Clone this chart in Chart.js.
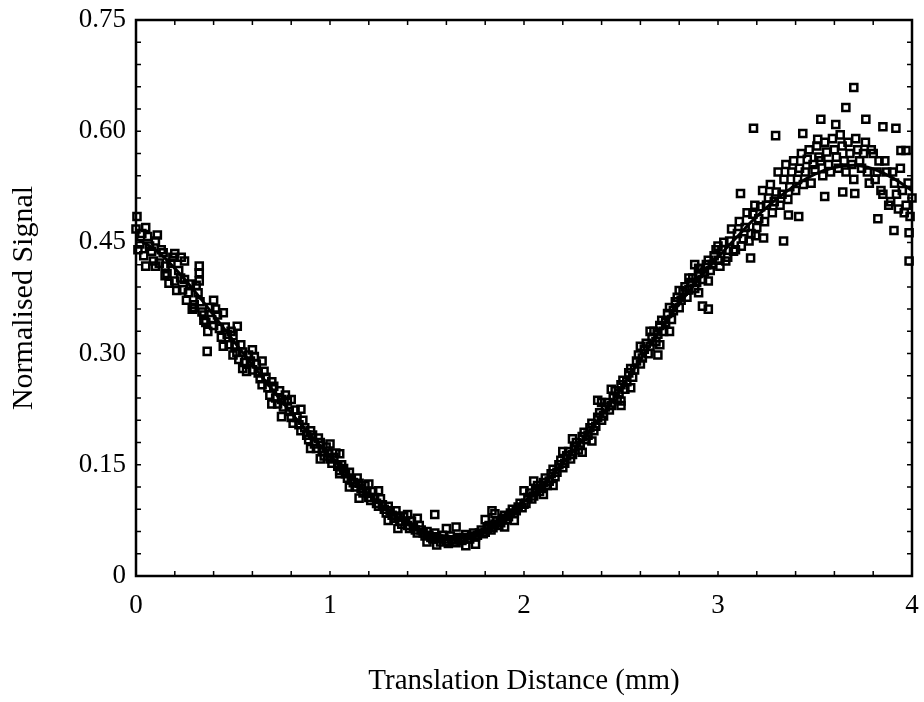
<!DOCTYPE html>
<html>
<head>
<meta charset="utf-8">
<script src="https://cdn.jsdelivr.net/npm/chart.js@4"></script>
<style>
  body { margin: 0; background: #fff; }
  canvas { display: block; }
</style>
</head>
<body>
<canvas id="chartSignal" width="924" height="702"></canvas>
<script>
// measured points [distance mm, normalised signal]
const descent = [
  [0.00,.468],[0.01,.44],[0.02,.448],[0.03,.462],[0.04,.432],[0.05,.418],[0.06,.458],[0.07,.445],[0.08,.438],[0.09,.425],
  [0.10,.452],[0.11,.46],[0.12,.422],[0.13,.44],[0.14,.436],[0.15,.418],[0.16,.408],[0.17,.395],[0.18,.422],[0.19,.43],
  [0.20,.398],[0.21,.385],[0.22,.412],[0.23,.402],[0.24,.386],[0.25,.40],[0.26,.372],[0.27,.382],[0.28,.394],[0.29,.36],
  [0.30,.366],[0.31,.392],[0.32,.382],[0.33,.37],[0.34,.356],[0.35,.352],[0.36,.342],[0.37,.33],[0.38,.362],[0.39,.346],
  [0.40,.338],[0.41,.36],[0.42,.352],[0.43,.334],[0.44,.322],[0.45,.31],[0.46,.336],[0.47,.326],[0.48,.312],[0.49,.33],
  [0.50,.324],[0.51,.31],[0.52,.302],[0.53,.292],[0.54,.312],[0.55,.302],[0.56,.288],[0.57,.276],[0.58,.298],[0.59,.29],
  [0.60,.278],[0.61,.296],[0.62,.286],[0.63,.274],[0.64,.266],[0.65,.258],[0.66,.276],[0.67,.268],[0.68,.254],[0.69,.244],
  [0.70,.262],[0.71,.256],[0.72,.24],[0.73,.232],[0.74,.25],[0.75,.238],[0.76,.228],[0.77,.244],[0.78,.236],[0.79,.222],
  [0.80,.214],[0.81,.206],[0.82,.224],[0.83,.214],[0.84,.204],[0.85,.196],[0.86,.21],[0.87,.2],[0.88,.19],[0.89,.184],
  [0.90,.196],[0.91,.19],[0.92,.178],[0.93,.172],[0.94,.186],[0.95,.18],[0.96,.168],[0.97,.162],[0.98,.174],[0.99,.166],
  [1.00,.158]
];

const trough = [
  [1.01,.152],[1.02,.16],[1.03,.166],[1.04,.148],[1.05,.142],[1.06,.15],[1.07,.145],[1.08,.138],[1.09,.132],[1.10,.14],
  [1.11,.13],[1.12,.126],[1.13,.12],[1.14,.132],[1.15,.125],[1.16,.118],[1.17,.112],[1.18,.122],[1.19,.114],[1.20,.106],
  [1.21,.102],[1.22,.114],[1.23,.106],[1.24,.098],[1.25,.094],[1.26,.104],[1.27,.096],[1.28,.09],[1.29,.085],[1.30,.094],
  [1.31,.088],[1.32,.082],[1.33,.078],[1.34,.088],[1.35,.08],[1.36,.074],[1.37,.07],[1.38,.08],[1.39,.074],[1.40,.068],
  [1.41,.064],[1.42,.074],[1.43,.066],[1.44,.062],[1.45,.058],[1.46,.068],[1.47,.062],[1.48,.058],[1.49,.054],[1.50,.06],
  [1.51,.055],[1.52,.052],[1.53,.05],[1.54,.058],[1.55,.053],[1.56,.05],[1.57,.046],[1.58,.055],[1.59,.05],[1.60,.047],
  [1.61,.044],[1.62,.054],[1.63,.049],[1.64,.046],[1.65,.045],[1.66,.052],[1.67,.049],[1.68,.048],[1.69,.052],[1.70,.056],
  [1.71,.05],[1.72,.05],[1.73,.054],[1.74,.058],[1.75,.053],[1.76,.055],[1.77,.058],[1.78,.062],[1.79,.057],[1.80,.059],
  [1.81,.064],[1.82,.068],[1.83,.062],[1.84,.065],[1.85,.07],[1.86,.074],[1.87,.068],[1.88,.072],[1.89,.078],[1.90,.082],
  [1.91,.076],[1.92,.08],[1.93,.085],[1.94,.09],[1.95,.084],[1.96,.088],[1.97,.093],[1.98,.098],[1.99,.092],[2.00,.097]
];

const ascent = [
  [2.01,.098],[2.02,.106],[2.03,.112],[2.04,.104],[2.05,.108],[2.06,.116],[2.07,.122],[2.08,.114],[2.09,.118],[2.10,.126],
  [2.11,.132],[2.12,.122],[2.13,.128],[2.14,.138],[2.15,.144],[2.16,.134],[2.17,.14],[2.18,.15],[2.19,.156],[2.20,.146],
  [2.21,.152],[2.22,.162],[2.23,.168],[2.24,.158],[2.25,.164],[2.26,.174],[2.27,.18],[2.28,.17],[2.29,.176],[2.30,.188],
  [2.31,.194],[2.32,.184],[2.33,.19],[2.34,.2],[2.35,.206],[2.36,.196],[2.37,.202],[2.38,.214],[2.39,.22],[2.40,.21],
  [2.41,.216],[2.42,.228],[2.43,.234],[2.44,.224],[2.45,.23],[2.46,.242],[2.47,.25],[2.48,.238],[2.49,.246],[2.50,.258],
  [2.51,.264],[2.52,.252],[2.53,.262],[2.54,.274],[2.55,.28],[2.56,.268],[2.57,.278],[2.58,.29],[2.59,.298],[2.60,.286],
  [2.61,.294],[2.62,.306],[2.63,.314],[2.64,.3],[2.65,.31],[2.66,.322],[2.67,.33],[2.68,.316],[2.69,.326],[2.70,.338],
  [2.71,.345],[2.72,.33],[2.73,.342],[2.74,.354],[2.75,.362],[2.76,.346],[2.77,.358],[2.78,.37],[2.79,.376],[2.80,.362],
  [2.81,.372],[2.82,.384],[2.83,.39],[2.84,.376],[2.85,.386],[2.86,.396],[2.87,.402],[2.88,.388],[2.89,.396],[2.90,.408],
  [2.91,.414],[2.92,.4],[2.93,.41],[2.94,.42],[2.95,.426],[2.96,.412],[2.97,.42],[2.98,.432],[2.99,.44],[3.00,.426]
];

const crest = [
  [3.01,.418],[3.02,.44],[3.03,.45],[3.04,.425],[3.05,.43],[3.06,.452],[3.07,.468],[3.08,.438],[3.09,.44],[3.10,.462],
  [3.11,.478],[3.12,.445],[3.13,.455],[3.14,.47],[3.15,.49],[3.16,.452],[3.17,.462],[3.18,.488],[3.19,.5],[3.20,.47],
  [3.21,.482],[3.22,.498],[3.23,.52],[3.24,.478],[3.25,.5],[3.26,.51],[3.27,.528],[3.28,.49],[3.29,.505],[3.30,.518],
  [3.31,.545],[3.32,.5],[3.33,.515],[3.34,.535],[3.35,.555],[3.36,.508],[3.37,.525],[3.38,.545],[3.39,.56],[3.40,.52],
  [3.41,.535],[3.42,.55],[3.43,.57],[3.44,.528],[3.45,.545],[3.46,.562],[3.47,.575],[3.48,.53],[3.49,.555],[3.50,.548],
  [3.51,.58],[3.52,.565],[3.53,.56],[3.54,.54],[3.55,.585],[3.56,.572],[3.57,.555],[3.58,.545],[3.59,.59],[3.60,.575],
  [3.61,.565],[3.62,.55],[3.63,.595],[3.64,.58],[3.65,.56],[3.66,.545],[3.67,.585],[3.68,.57],[3.69,.555],[3.70,.535],
  [3.71,.59],[3.72,.575],[3.73,.56],[3.74,.55],[3.75,.57],[3.76,.585],[3.77,.545],[3.78,.53],[3.79,.575],[3.80,.57],
  [3.81,.535],[3.82,.545],[3.83,.56],[3.84,.52],[3.85,.515],[3.86,.56],[3.87,.545],[3.88,.5],[3.89,.505],[3.90,.545],
  [3.91,.53],[3.92,.515],[3.93,.495],[3.94,.55],[3.95,.52],[3.96,.49],[3.97,.5],[3.98,.53],[3.99,.485],[4.00,.51]
];

// points on the upper and lower edges of the band
const edges = [
  [0.05,.47],[0.10,.418],[0.15,.405],[0.20,.435],[0.25,.425],[0.30,.362],[0.35,.345],[0.40,.372],[0.45,.355],[0.50,.298],
  [0.55,.28],[0.60,.305],[0.65,.29],[0.70,.232],[0.75,.215],[0.80,.238],[0.85,.225],[0.90,.172],[0.95,.158],[1.00,.178],
  [1.05,.165],[1.10,.12],[1.15,.105],[1.20,.124],[1.25,.115],[1.30,.075],[1.35,.064],[1.40,.083],[1.45,.078],[1.50,.046],
  [1.55,.042],[1.60,.064],[1.65,.066],[1.70,.041],[1.75,.043],[1.80,.076],[1.85,.084],[1.90,.066],[1.95,.075],[2.00,.115],
  [2.05,.128],[2.10,.11],[2.15,.122],[2.20,.168],[2.25,.185],[2.30,.167],[2.35,.182],[2.40,.234],[2.45,.252],[2.50,.236],
  [2.55,.254],[2.60,.31],[2.65,.33],[2.70,.312],[2.75,.33],[2.80,.385],[2.85,.402],[2.90,.382],[2.95,.398],[3.00,.445]
];

const strays = [
  [0.005,.485],[0.233,.43],[0.326,.418],[0.326,.409],[0.326,.398],[0.367,.303],[0.522,.337],
  [1.05,.138],[1.36,.081],[1.54,.083],[1.835,.088],[2.38,.237],[2.5,.23],[2.69,.298],
  [2.88,.42],[2.9,.415],[2.92,.364],[2.95,.36],[3.116,.516],[3.168,.429],[3.183,.604],
  [3.194,.459],[3.235,.456],[3.297,.594],[3.338,.452],[3.363,.487],[3.416,.485],[3.437,.597],
  [3.514,.589],[3.53,.616],[3.55,.512],[3.607,.609],[3.643,.518],[3.659,.632],[3.70,.659],
  [3.705,.516],[3.762,.616],[3.824,.482],[3.85,.606],[3.907,.466],[3.917,.604],[3.943,.574],
  [3.969,.574],[3.985,.463],[3.985,.425]
];

// fitted curve
const fitX = [0,0.1,0.2,0.3,0.4,0.5,0.6,0.7,0.8,0.9,1.0,1.1,1.2,1.3,1.4,1.5,1.6,1.7,1.8,1.9,2.0,
  2.1,2.2,2.3,2.4,2.5,2.6,2.7,2.8,2.9,3.0,3.1,3.2,3.3,3.4,3.5,3.6,3.7,3.8,3.9,4.0];
const fitY = [.455,.44,.415,.385,.352,.318,.285,.252,.22,.19,.162,.135,.11,.088,.07,.058,.052,.053,.062,.078,.10,
  .124,.152,.183,.216,.253,.292,.33,.367,.40,.43,.458,.485,.508,.527,.542,.551,.554,.549,.537,.52];

const xTicks = [0, 1, 2, 3, 4];
const xTickLabels = ["0", "1", "2", "3", "4"];
const yTicks = [0, 0.15, 0.30, 0.45, 0.60, 0.75];
const yTickLabels = ["0", "0.15", "0.30", "0.45", "0.60", "0.75"];

const serif = "'Liberation Serif', 'Times New Roman', serif";
const tickFont = { family: serif, size: 27 };
const titleFont = { family: serif, size: 29 };

const toPoints = arr => arr.map(p => ({ x: p[0], y: p[1] }));
const measured = toPoints([].concat(descent, trough, ascent, crest, edges, strays));
const fitted = fitX.map((x, i) => ({ x: x, y: fitY[i] }));

// box round the plot with small inward ticks on all four sides
const frame = {
  id: "frame",
  afterDatasetsDraw(chart) {
    const { ctx, chartArea: a, scales: { x, y } } = chart;
    ctx.save();
    ctx.strokeStyle = "#000";
    ctx.lineWidth = 1.5;
    ctx.beginPath();
    for (let i = 0; i <= 20; i++) {
      const px = x.getPixelForValue(i * 0.2);
      ctx.moveTo(px, a.bottom); ctx.lineTo(px, a.bottom - 5);
      ctx.moveTo(px, a.top); ctx.lineTo(px, a.top + 5);
    }
    for (let i = 0; i <= 25; i++) {
      const py = y.getPixelForValue(i * 0.03);
      ctx.moveTo(a.left, py); ctx.lineTo(a.left + 5, py);
      ctx.moveTo(a.right, py); ctx.lineTo(a.right - 5, py);
    }
    ctx.stroke();
    ctx.lineWidth = 2.5;
    ctx.strokeRect(a.left, a.top, a.right - a.left, a.bottom - a.top);
    ctx.restore();
  }
};

new Chart(document.getElementById("chartSignal"), {
  type: "scatter",
  data: {
    datasets: [
      {
        label: "Fit",
        data: fitted,
        showLine: true,
        pointRadius: 0,
        borderColor: "#000",
        borderWidth: 3,
        cubicInterpolationMode: "monotone"
      },
      {
        label: "Measured",
        data: measured,
        pointStyle: "rect",
        pointRadius: 5,
        borderWidth: 2.5,
        borderColor: "#000",
        backgroundColor: "rgba(0,0,0,0)",
        clip: false
      }
    ]
  },
  options: {
    responsive: false,
    animation: false,
    layout: { padding: 0 },
    plugins: { legend: { display: false }, tooltip: { enabled: false } },
    scales: {
      x: {
        type: "linear",
        min: 0,
        max: 4,
        grid: { display: false, drawTicks: false },
        border: { display: false },
        afterFit: s => { s.height = 126; s.paddingLeft = 0; s.paddingRight = 12; },
        afterBuildTicks: s => { s.ticks = xTicks.map(v => ({ value: v })); },
        ticks: { color: "#000", font: tickFont, padding: 14, callback: (v, i) => xTickLabels[i] },
        title: { display: true, text: "Translation Distance (mm)", color: "#000", font: titleFont, padding: { top: 0, bottom: 3 } }
      },
      y: {
        type: "linear",
        min: 0,
        max: 0.75,
        grid: { display: false, drawTicks: false },
        border: { display: false },
        afterFit: s => { s.width = 136; s.paddingTop = 20; s.paddingBottom = 0; },
        afterBuildTicks: s => { s.ticks = yTicks.map(v => ({ value: v })); },
        ticks: { color: "#000", font: tickFont, padding: 10, callback: (v, i) => yTickLabels[i] },
        title: { display: true, text: "Normalised Signal", color: "#000", font: { family: serif, size: 30 }, padding: { top: 6, bottom: 0 } }
      }
    }
  },
  plugins: [frame]
});
</script>
</body>
</html>
